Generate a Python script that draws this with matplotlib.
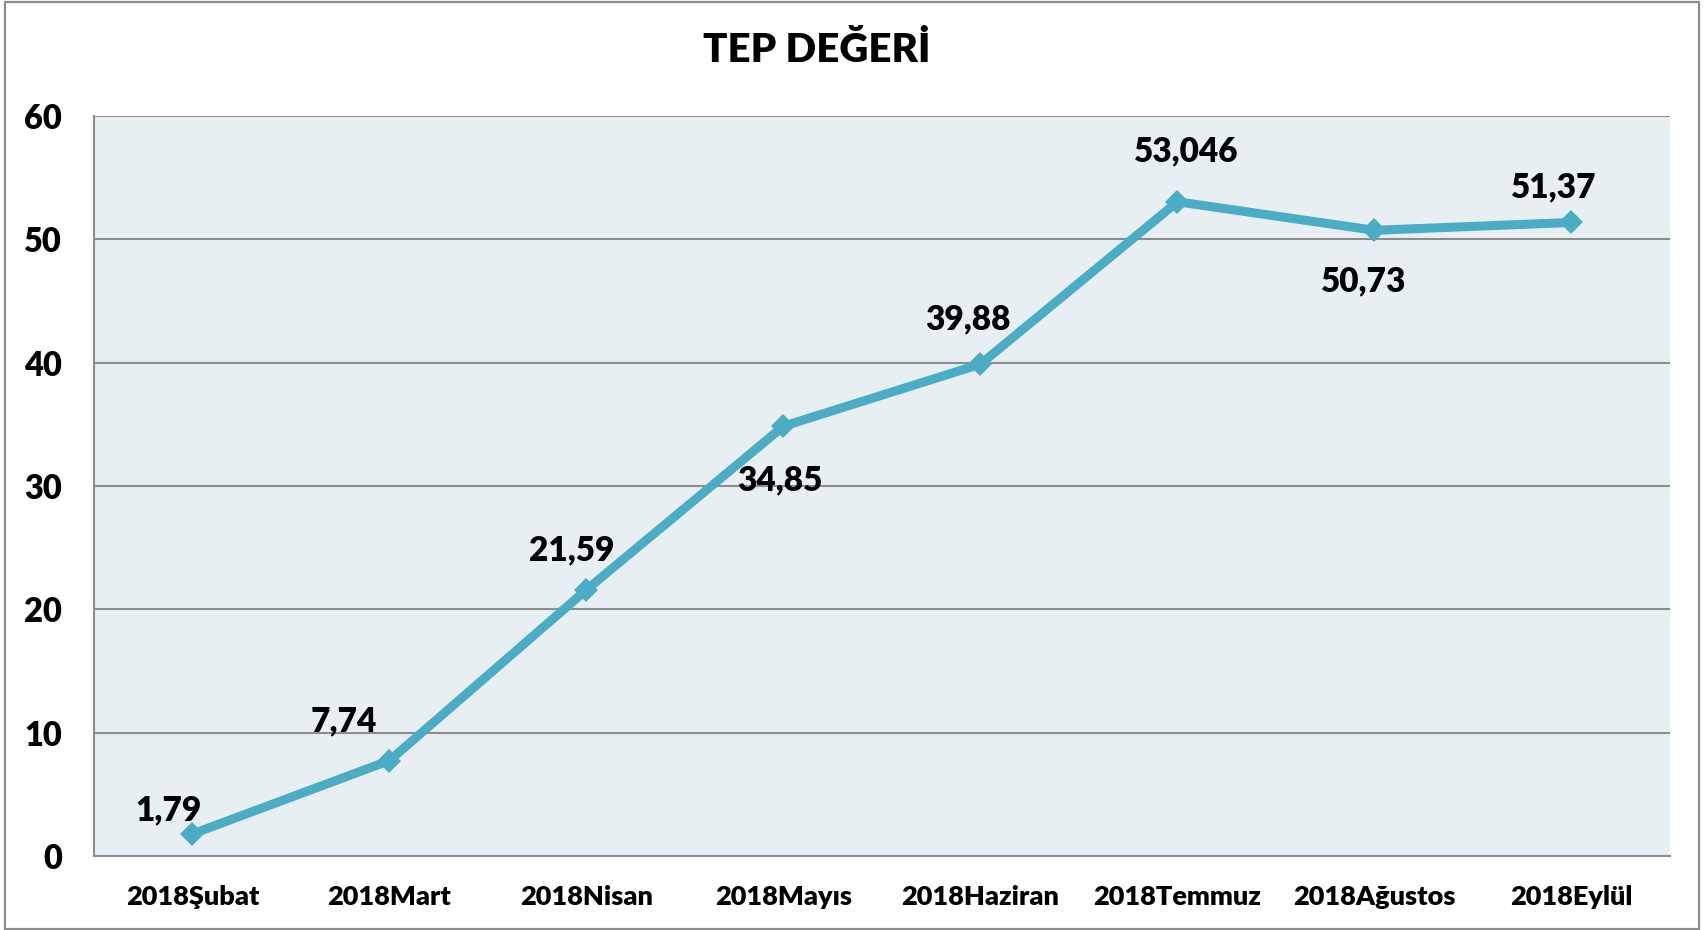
import matplotlib
matplotlib.use('Agg')
import matplotlib.pyplot as plt
from matplotlib.patches import Rectangle

plt.rcParams['font.family'] = ['Lato', 'DejaVu Sans']

# data
months = ['2018Şubat', '2018Mart', '2018Nisan', '2018Mayıs',
          '2018Haziran', '2018Temmuz', '2018Ağustos', '2018Eylül']
tep = [1.79, 7.74, 21.59, 34.85, 39.88, 53.046, 50.73, 51.37]
tep_labels = ['1,79', '7,74', '21,59', '34,85', '39,88', '53,046', '50,73', '51,37']

# label offsets in pixels (dx, dy) relative to the marker
label_offsets = [(-24, 24), (-46, 39), (-15, 39), (-4, -54),
                 (-13, 45), (9, 50), (-11, -51), (-18, 35)]

W, H = 1708, 930
BOLD = 'heavy'
fig = plt.figure(figsize=(W / 100, H / 100), dpi=100)
fig.patch.set_facecolor('white')
fig.patches.append(Rectangle((0.003, 0.001), 0.992, 0.997, transform=fig.transFigure,
                             fill=False, edgecolor='#8c8c8c', linewidth=1.6))

ax = fig.add_axes([94 / W, (H - 856) / H, 1576 / W, 740 / H])
ax.set_facecolor('#e8eff3')

x = list(range(len(months)))
ax.plot(x, tep, color='#4bacc6', linewidth=6.5, marker='D', markersize=12.5,
        markeredgewidth=0, solid_joinstyle='miter', zorder=3)

for xi, yi, lab, (dx, dy) in zip(x, tep, tep_labels, label_offsets):
    ax.annotate(lab, (xi, yi), xytext=(dx, dy), textcoords='offset pixels',
                ha='center', va='center', fontsize=24, fontweight=BOLD, color='black')

ax.set_xlim(-0.5, len(months) - 0.5)
ax.set_ylim(0, 60)
ax.set_yticks(range(0, 61, 10))
ax.set_xticks(x)
ax.set_xticklabels(months)
ax.yaxis.grid(True, color='#8c8c8c', linewidth=1.5)
ax.set_axisbelow(True)
ax.tick_params(axis='both', length=0)
ax.tick_params(axis='y', labelsize=23.5, pad=23)
ax.tick_params(axis='x', labelsize=19.5, pad=21)
for lbl in ax.get_xticklabels() + ax.get_yticklabels():
    lbl.set_fontweight(BOLD)

for side in ['top', 'right']:
    ax.spines[side].set_visible(False)
for side in ['left', 'bottom']:
    ax.spines[side].set_color('#8c8c8c')
    ax.spines[side].set_linewidth(1.5)

fig.text(817 / W, 1 - 50 / H, 'TEP DEĞERİ', ha='center', va='center',
         fontsize=29, fontweight=BOLD, color='black')

fig.savefig('out.png', dpi=100)
